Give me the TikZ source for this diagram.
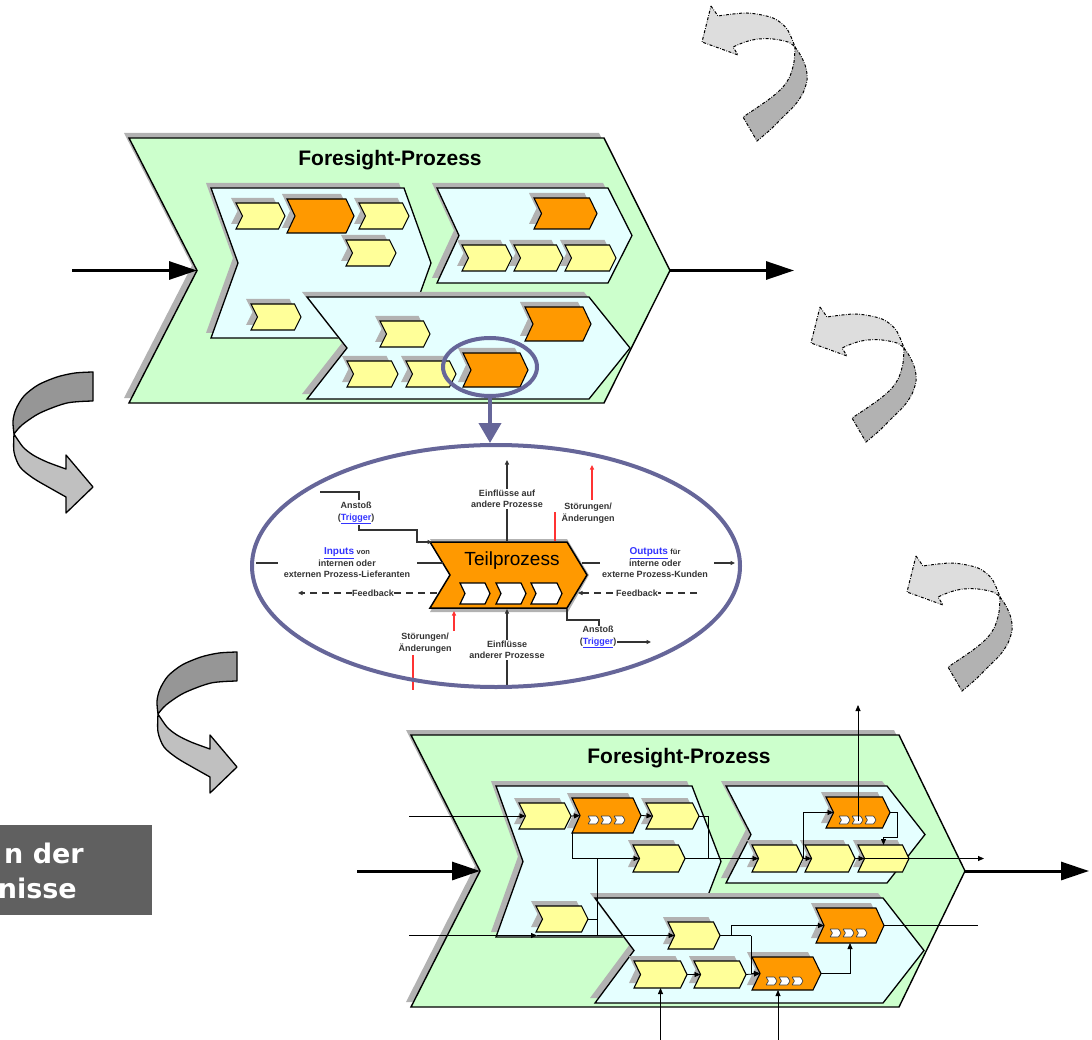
\documentclass[tikz,border=0pt]{standalone}
\usepackage{fontspec}
\setmainfont{Liberation Sans}
\newfontfamily\boxfont{DejaVu Sans}
\usetikzlibrary{arrows.meta,calc,shapes.geometric}
\definecolor{grn}{HTML}{CCFFCC}
\definecolor{cya}{HTML}{E5FFFF}
\definecolor{yel}{HTML}{FFFF99}
\definecolor{org}{HTML}{FF9900}
\definecolor{shd}{HTML}{B2B2B2}
\definecolor{pur}{HTML}{666699}
\definecolor{lgr}{HTML}{DDDDDD}
\definecolor{mgr}{HTML}{B2B2B2}
\definecolor{agra}{HTML}{969696}
\definecolor{agrb}{HTML}{C0C0C0}
\definecolor{boxg}{HTML}{606060}
\definecolor{txg}{HTML}{333333}
\definecolor{lnk}{HTML}{3333FF}
\definecolor{rd}{HTML}{FF3333}

% chevron: name, x1, y1, x2, y2, notch depth, tip depth, style
\newcommand\mychev[8]{%
  \fill[shd,shift={(-5,-5)}] (#2,#3) -- ({#4-#7},#3) -- (#4,{(#3+#5)/2}) -- ({#4-#7},#5) -- (#2,#5) -- ({#2+#6},{(#3+#5)/2}) -- cycle;
  \draw[#8] (#2,#3) -- ({#4-#7},#3) -- (#4,{(#3+#5)/2}) -- ({#4-#7},#5) -- (#2,#5) -- ({#2+#6},{(#3+#5)/2}) -- cycle;
  \coordinate (#1-w) at ({#2+#6},{(#3+#5)/2});
  \coordinate (#1-e) at (#4,{(#3+#5)/2});
  \coordinate (#1-n) at ({(#2+#4)/2},#3);
  \coordinate (#1-s) at ({(#2+#4)/2},#5);
  \coordinate (#1-sw) at (#2,#5);
  \coordinate (#1-c) at ({(#2+#4)/2},{(#3+#5)/2});
}
\newcommand\minic[2]{\draw[minist] ({#1},{#2}) -- ({#1+8.5},{#2}) -- ({#1+11},{#2+4}) -- ({#1+8.5},{#2+8}) -- ({#1},{#2+8}) -- ({#1+2.5},{#2+4}) -- cycle;}
\newcommand\minis[2]{\minic{#1}{#2}\minic{#1+13}{#2}\minic{#1+26}{#2}}
\newcommand\wchev[4]{\draw[line width=1.2pt, fill=white] ({#1},{#2}) -- ({#3-5},{#2}) -- ({#3},{(#2+#4)/2}) -- ({#3-5},{#4}) -- ({#1},{#4}) -- ({#1+5},{(#2+#4)/2}) -- cycle;}
\newcommand\dasharr[2]{%
\begin{scope}[shift={(#1,#2)}]
 \draw[dda, fill=lgr] (711,6) -- (718,16) -- plot[smooth] coordinates {(718,16) (747,13) (773,18) (787,29) (795,47)} -- plot[smooth] coordinates {(795,47) (788,42) (773,39) (758,39) (745,42) (733,47)} -- (738,55) -- (702,42) -- cycle;
 \draw[dda, fill=mgr] plot[smooth] coordinates {(795,47) (801,56) (806,68) (807,80) (803,93) (795,105) (782,118) (770,130) (757,141)} -- (743,117) -- plot[smooth] coordinates {(743,117) (758,107) (772,97) (783,87) (790,76) (794,62) (795,47)} -- cycle;
\end{scope}}
\newcommand\solarr[2]{%
\begin{scope}[shift={(#1,#2)}]
 \draw[sda, fill=agra] plot[smooth] coordinates {(93,372) (75,373) (57,377) (38,385) (24,396) (16,409) (13,421) (14,434)} -- plot[smooth] coordinates {(14,434) (22,425) (40,413) (67,403) (93,401)} -- cycle;
 \draw[sda, fill=agrb] plot[smooth] coordinates {(14,434) (14,452) (20,467) (33,478) (50,488) (66,497)} -- (66,513) -- (93,487) -- (66,455) -- plot[smooth] coordinates {(66,469) (47,462) (33,455) (23,447) (14,434)} -- cycle;
\end{scope}}

\begin{document}
\begin{tikzpicture}[x=1pt,y=-1pt,
  gst/.style={draw=black, line width=1.4pt, fill=grn, line join=miter},
  ist/.style={draw=black, line width=1.3pt, fill=cya},
  yst/.style={draw=black, line width=1.1pt, fill=yel},
  ost/.style={draw=black, line width=1.1pt, fill=org},
  minist/.style={fill=white, draw=black!75, line width=0.7pt, rounded corners=0.6pt},
  dda/.style={draw=black, line width=1pt, dash pattern=on 3pt off 1.5pt on 0.7pt off 1.5pt},
  sda/.style={draw=black, line width=1.3pt, line join=round},
  bigarr/.style={line width=3pt, -{Triangle[length=28pt,width=18pt]}},
  cn/.style={line width=0.8pt},
  cna/.style={line width=0.8pt, -{Triangle[length=6pt,width=5pt]}},
  eln/.style={line width=1.1pt, draw=txg},
  ela/.style={line width=1.1pt, draw=txg, -{Triangle[length=4.5pt,width=4pt]}},
  rla/.style={line width=1.1pt, draw=rd, -{Triangle[length=4.5pt,width=4pt]}},
  lbl/.style={font=\fontsize{9}{11.5}\selectfont\bfseries, text=txg, inner sep=0.6pt, align=center},
  ttl/.style={font=\fontsize{21}{25}\selectfont\bfseries, anchor=base, inner sep=0pt}
]
\useasboundingbox (0,0) rectangle (1092,1040);

% ---------- curved arrows ----------
\dasharr{0}{0}
\dasharr{109}{301}
\dasharr{205}{550}
\solarr{0}{0}
\solarr{144}{280}

% ---------- top process ----------
\mychev{T}{129}{138}{670}{403}{68}{66}{gst}
\node[ttl] (ttop) at (390,166) {Foresight-Prozess};
\mychev{TA}{211}{188}{431}{338}{27}{27}{ist}
\mychev{TB}{437}{188}{632}{283}{22}{24}{ist}
\mychev{TC}{307}{297}{630}{399}{40}{41}{ist}
\mychev{ta1}{236}{203}{285}{229}{6.5}{6.5}{yst}
\mychev{ta2}{287}{199}{354}{233}{8}{8}{ost}
\mychev{ta3}{359}{203}{409}{229}{6.5}{6.5}{yst}
\mychev{ta4}{346}{240}{396}{266}{6.5}{6.5}{yst}
\mychev{ta5}{251}{304}{301}{330}{6.5}{6.5}{yst}
\mychev{tb1}{534}{198}{597}{229}{7.5}{7.5}{ost}
\mychev{tb2}{462}{245}{512}{271}{6.5}{6.5}{yst}
\mychev{tb3}{514}{245}{563}{271}{6.5}{6.5}{yst}
\mychev{tb4}{565}{245}{616}{271}{6.5}{6.5}{yst}
\mychev{tc1}{380}{321}{430}{347}{6.5}{6.5}{yst}
\mychev{tc2}{525}{307}{591}{341}{8}{8}{ost}
\mychev{tc3}{347}{361}{398}{387}{6.5}{6.5}{yst}
\mychev{tc4}{406}{361}{456}{387}{6.5}{6.5}{yst}
\mychev{tc5}{463}{353}{528}{387}{8}{8}{ost}
\coordinate (inT) at (72,270.5);
\coordinate (outT) at (794,270.5);
\draw[bigarr] (inT) -- (T-w);
\draw[bigarr] (T-e) -- (outT);
\node[draw=pur, line width=4pt, ellipse, minimum width=94pt, minimum height=58pt, inner sep=0pt] (circ) at (490,367) {};

% ---------- Teilprozess detail ----------
\fill[shd] (430,539) -- (567,539) -- (589,575) -- (568,612) -- (430,612) -- (451,575) -- cycle;
\draw[line width=1.5pt, fill=org] (430,542) -- (567,542) -- (587,575) -- (567,608) -- (430,608) -- (450,575) -- cycle;
\node[font=\fontsize{19}{22}\selectfont, inner sep=0pt] (tpt) at (512,561) {Teilprozess};
\wchev{460}{583}{490}{604}
\wchev{496}{583}{526}{604}
\wchev{531}{583}{562}{604}
\coordinate (tpL) at (443,563);
\coordinate (tpR) at (582,563);
\coordinate (tpT) at (507,541);
\coordinate (tpB) at (507,609);
% input/output lines
\coordinate (iL1) at (256,563); \coordinate (iL2) at (278,563); \coordinate (iL3) at (417,563);
\draw[eln] (iL1) -- (iL2);
\draw[eln] (iL3) -- (tpL);
\coordinate (oR1) at (600,563); \coordinate (oR2) at (714,563); \coordinate (oR3) at (735,563);
\draw[eln] (tpR) -- (oR1);
\draw[ela] (oR2) -- (oR3);
% feedback
\coordinate (fbL1) at (437,593); \coordinate (fbL2) at (298,593);
\coordinate (fbR1) at (697,593); \coordinate (fbR2) at (578,593);
\draw[ela, dash pattern=on 7pt off 5pt] (fbL1) -- (fbL2);
\draw[ela, dash pattern=on 7pt off 5pt] (fbR1) -- (fbR2);
\node[lbl, fill=white] (fbl) at (373,593) {Feedback};
\node[lbl, fill=white] (fbr) at (637,593) {Feedback};
% influences
\coordinate (eT) at (507,460);
\coordinate (eB) at (507,688);
\draw[ela] (tpT) -- (eT);
\draw[ela] (eB) -- (tpB);
\node[lbl, fill=white] (einf1) at (507,499) {Einflüsse auf\\andere Prozesse};
\node[lbl, fill=white] (einf2) at (507,650) {Einflüsse\\anderer Prozesse};
% disturbances
\node[lbl] (st1) at (588,513) {Störungen/\\Änderungen};
\node[lbl] (st2) at (425,643) {Störungen/\\Änderungen};
\coordinate (r1a) at (592,500); \coordinate (r1b) at (592,465);
\coordinate (r2a) at (555,512); \coordinate (r2b) at (555,541);
\draw[rla] (r1a) -- (r1b);
\draw[line width=1.1pt, rd] (r2a) -- (r2b);
\coordinate (r3a) at (454,631); \coordinate (r3b) at (454,611);
\coordinate (r4a) at (413,655); \coordinate (r4b) at (413,690);
\draw[rla] (r3a) -- (r3b);
\draw[line width=1.1pt, rd] (r4a) -- (r4b);
% triggers
\node[lbl] (tr1) at (356,513) {Anstoß\\(\textcolor{lnk}{\underline{Trigger}})};
\node[lbl] (tr2) at (598,637) {Anstoß\\(\textcolor{lnk}{\underline{Trigger}})};
\coordinate (t1a) at (320,492); \coordinate (t1b) at (359,500);
\coordinate (t1c) at (359,525); \coordinate (t1d) at (432,542);
\draw[eln] (t1a) -| (t1b);
\draw[ela] (t1c) -- (359,530) -- (417,530) |- (t1d);
\coordinate (t2a) at (567,609); \coordinate (t2b) at (599,626);
\draw[eln] (t2a) |- (599,620) -- (t2b);
\coordinate (t2c) at (617,642); \coordinate (t2d) at (651,642);
\draw[ela] (t2c) -- (t2d);
% io labels
\node[lbl] (inp) at (347,563) {\textcolor{lnk}{\fontsize{10}{11.5}\selectfont\underline{Inputs}} {\fontsize{7.5}{9}\selectfont von}\\internen oder\\externen Prozess-Lieferanten};
\node[lbl] (outp) at (655,563) {\textcolor{lnk}{\fontsize{10}{11.5}\selectfont\underline{Outputs}} {\fontsize{7.5}{9}\selectfont für}\\interne oder\\externe Prozess-Kunden};
% ellipse
\node[draw=pur, line width=4pt, ellipse, minimum width=488pt, minimum height=242pt, inner sep=0pt] (ell) at (496,566) {};
\draw[draw=pur, line width=4pt, -{Triangle[length=20pt,width=22pt]}] (circ.south) -- (circ.south |- ell.north);

% ---------- bottom process ----------
\mychev{B}{411}{735}{965}{1007}{69}{66}{gst}
\node[ttl] (tbot) at (679,763) {Foresight-Prozess};
\mychev{BA}{496}{786}{721}{937}{27}{29}{ist}
\mychev{BB}{726}{786}{925}{883}{25}{38}{ist}
\mychev{BC}{595}{898}{924}{1003}{39}{41}{ist}
\mychev{a1}{519}{803}{571}{829}{6.5}{6.5}{yst}
\mychev{a2}{572}{798}{641}{833}{8}{8}{ost}
\mychev{a3}{646}{803}{699}{829}{6.5}{6.5}{yst}
\mychev{a4}{633}{845}{685}{872}{6.5}{6.5}{yst}
\mychev{a5}{536}{906}{588}{932}{6.5}{6.5}{yst}
\mychev{b1}{826}{797}{890}{828}{7.5}{7.5}{ost}
\mychev{b2}{752}{845}{803}{872}{6.5}{6.5}{yst}
\mychev{b3}{805}{845}{855}{872}{6.5}{6.5}{yst}
\mychev{b4}{858}{845}{909}{872}{6.5}{6.5}{yst}
\mychev{c1}{668}{922}{720}{949}{6.5}{6.5}{yst}
\mychev{c2}{816}{908}{884}{943}{8}{8}{ost}
\mychev{c3}{634}{961}{687}{988}{6.5}{6.5}{yst}
\mychev{c4}{694}{961}{746}{988}{6.5}{6.5}{yst}
\mychev{c5}{752}{957}{821}{990}{8}{8}{ost}
\minis{588}{816}
\minis{839}{816}
\minis{830}{929}
\minis{766}{977}
% connectors
\coordinate (inA) at (409,816);
\coordinate (inB) at (409,935.5);
\coordinate (midB) at (537,935.5);
\coordinate (v1t) at (597,858.5);
\coordinate (v1b) at (597,935.5);
\coordinate (c5v) at (751,935.5);
\coordinate (outC) at (978,925.5);
\coordinate (in1) at (660.5,1040);
\coordinate (in2) at (778,1040);
\coordinate (outTop) at (858,705);
\coordinate (outR) at (984,858.5);
\draw[cna] (inA) -- (a1-w);
\draw[cna] (a1-e) -- (a2-w);
\draw[cna] (a2-e) -- (a3-w);
\draw[cn] (a3-e) -- ++(9,0) |- (a4-e);
\draw[cna] (a4-e) -- (b2-w);
\draw[cna] (a2-sw) |- (a4-w);
\draw[cn] (v1t) -- (v1b);
\draw[cn] (a5-e) -- (a5-e -| v1t);
\draw[cna] (inB) -- (midB);
\draw[cna] (midB) -- (c1-w);
\draw[cna] (c1-e) -- ++(11,0) |- (c2-w);
\draw[cn] (c1-e) -- (c5v);
\draw[cna] (c5v) |- (c5-w);
\draw[cna] (c3-e) -- (c4-w);
\draw[cna] (c4-e) -- (c5-w);
\draw[cna] (c5-e) -| (c2-s);
\draw[cn] (c2-e) -- (outC);
\draw[cna] (in1) -- (c3-s);
\draw[cna] (in2) -- (in2 |- c5-s);
\draw[cna] ($(b1-c)+(0,8)$) -- (outTop);
\draw[cna] (b2-e) |- (b1-w);
\draw[cna] (b1-e) -- ++(7,0) |- ($(b4-n)+(0,-8)$) -- (b4-n);
\draw[cna] (b2-e) -- (b3-w);
\draw[cna] (b3-e) -- (b4-w);
\draw[cna] (b4-w) -- (outR);
\coordinate (inBig) at (357,871);
\coordinate (outBig) at (1089,871);
\draw[bigarr] (inBig) -- (B-w);
\draw[bigarr] (B-e) -- (outBig);

% ---------- label box ----------
\fill[boxg] (0,825) rectangle (152,915);
\node[anchor=base east, text=white, inner sep=0pt, font=\boxfont\bfseries\fontsize{27}{32}\selectfont] (bx1) at (84,863) {n der};
\node[anchor=base east, text=white, inner sep=0pt, font=\boxfont\bfseries\fontsize{27}{32}\selectfont] (bx2) at (77,898) {nisse};
\end{tikzpicture}
\end{document}
